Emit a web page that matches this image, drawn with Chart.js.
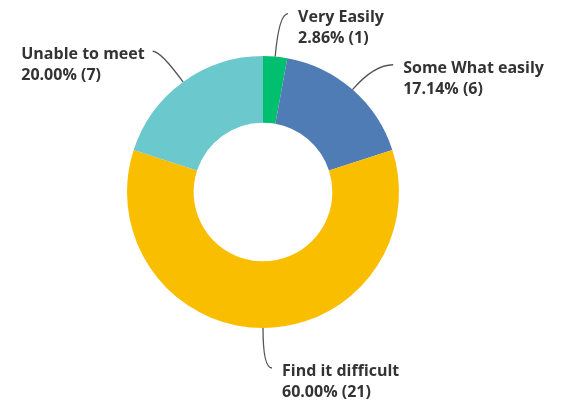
<!DOCTYPE html>
<html>
<head>
<meta charset="utf-8">
<script src="https://cdn.jsdelivr.net/npm/chart.js@4"></script>
<style>
  html, body { margin: 0; padding: 0; background: #fff; }
  #wrap { width: 561px; height: 401px; position: relative; }
</style>
</head>
<body>
<div id="wrap"><canvas id="chart"></canvas></div>
<script>
const categories = ["Very Easily", "Some What easily", "Find it difficult", "Unable to meet"];
const counts = [1, 6, 21, 7];
const colors = ["#00BF6F", "#507CB6", "#F9BE00", "#6BC8CD"];

// leader line look: radial reach, horizontal hook
const leaderExt = [43, 33, 40, 38];
const leaderHook = [9, 19, 9, 8];

const total = counts.reduce((a, b) => a + b, 0);

const calloutPlugin = {
  id: "callouts",
  afterDatasetsDraw(chart) {
    const ctx = chart.ctx;
    const arcs = chart.getDatasetMeta(0).data;
    ctx.save();
    arcs.forEach((arc, i) => {
      const p = arc.getProps(["x", "y", "startAngle", "endAngle", "outerRadius"], true);
      const mid = (p.startAngle + p.endAngle) / 2;
      const dx = Math.cos(mid), dy = Math.sin(mid);
      const x0 = p.x + dx * p.outerRadius, y0 = p.y + dy * p.outerRadius;
      const cx = x0 + dx * leaderExt[i], cy = y0 + dy * leaderExt[i];
      const side = dx >= -0.01 ? 1 : -1;
      const x1 = cx + side * leaderHook[i], y1 = cy;

      ctx.strokeStyle = "#555";
      ctx.lineWidth = 1.3;
      ctx.beginPath();
      ctx.moveTo(x0, y0);
      ctx.quadraticCurveTo(cx, cy, x1, y1);
      ctx.stroke();

      const pct = (counts[i] / total * 100).toFixed(2) + "% (" + counts[i] + ")";
      ctx.fillStyle = "#333";
      ctx.font = "700 16px 'Open Sans'";
      ctx.textBaseline = "alphabetic";
      ctx.textAlign = "left";
      const w = Math.max(ctx.measureText(categories[i]).width, ctx.measureText(pct).width);
      const tx = side > 0 ? x1 + 10 : x1 - 8 - w;
      ctx.fillText(categories[i], tx, y1 + 8);
      ctx.fillText(pct, tx, y1 + 29);
    });
    ctx.restore();
  }
};

new Chart(document.getElementById("chart"), {
  type: "doughnut",
  data: {
    labels: categories,
    datasets: [{
      data: counts,
      backgroundColor: colors,
      borderWidth: 0
    }]
  },
  options: {
    responsive: true,
    maintainAspectRatio: false,
    animation: false,
    cutout: "51%",
    layout: { padding: { left: 127, right: 162, top: 56, bottom: 73 } },
    plugins: {
      legend: { display: false },
      tooltip: { enabled: false }
    }
  },
  plugins: [calloutPlugin]
});
</script>
</body>
</html>
